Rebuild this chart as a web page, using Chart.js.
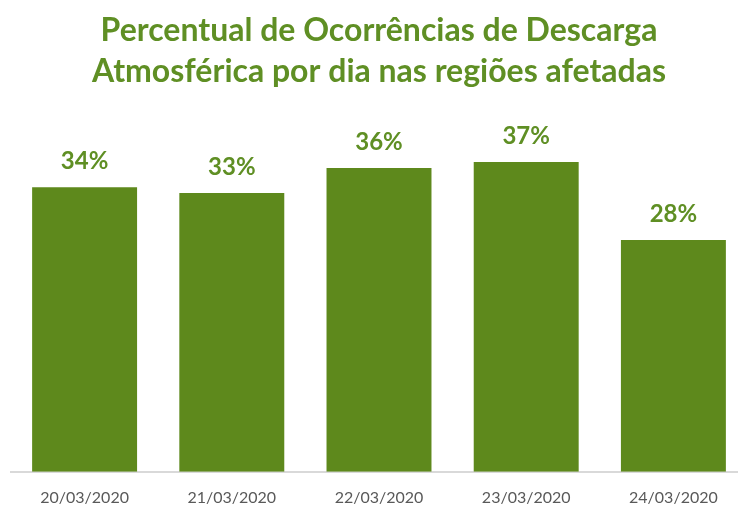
<!DOCTYPE html>
<html>
<head>
<meta charset="utf-8">
<script src="https://cdn.jsdelivr.net/npm/chart.js@4"></script>
<style>
  html, body { margin: 0; padding: 0; background: #fff; overflow: hidden; }
  #wrap { width: 747px; height: 517px; }
</style>
</head>
<body>
<div id="wrap"><canvas id="chart"></canvas></div>
<script>
// dates on the x axis
const days = ['20/03/2020', '21/03/2020', '22/03/2020', '23/03/2020', '24/03/2020'];
// share of occurrences per day (fraction)
const shares = [0.34, 0.333, 0.363, 0.37, 0.277];
const titleLines = ['Percentual de Ocorrências de Descarga', 'Atmosférica por dia nas regiões afetadas'];

const green = '#5E891C';
const labelFont = "bold 24px Lato, 'Open Sans', sans-serif";

// draws the % value above each bar
const barLabels = {
  id: 'barLabels',
  afterDatasetsDraw(chart) {
    const ctx = chart.ctx;
    const meta = chart.getDatasetMeta(0);
    ctx.save();
    ctx.font = labelFont;
    ctx.fillStyle = '#5F8F24';
    ctx.textAlign = 'center';
    ctx.textBaseline = 'bottom';
    meta.data.forEach((bar, i) => {
      ctx.fillText(Math.round(shares[i] * 100) + '%', bar.x, bar.y - 14);
    });
    ctx.restore();
  }
};

const ctx = document.getElementById('chart').getContext('2d');

new Chart(ctx, {
  type: 'bar',
  data: {
    labels: days,
    datasets: [{
      label: 'Percentual',
      data: shares,
      backgroundColor: green,
      borderWidth: 0,
      categoryPercentage: 1,
      barPercentage: 0.713
    }]
  },
  options: {
    responsive: true,
    maintainAspectRatio: false,
    animation: false,
    layout: { padding: { left: 11, right: 0, top: 0, bottom: 2 } },
    plugins: {
      legend: { display: false },
      tooltip: { enabled: false },
      title: {
        display: true,
        text: titleLines,
        color: '#5F8F24',
        font: { family: "Lato, 'Open Sans', sans-serif", size: 32, weight: 'bold', lineHeight: 1.28 },
        padding: { top: 10, bottom: 45 }
      }
    },
    scales: {
      x: {
        grid: { display: false },
        border: { display: true, color: '#D9D9D9', width: 2 },
        ticks: {
          color: '#595959',
          font: { family: "Lato, 'Open Sans', sans-serif", size: 16 },
          padding: 8,
          maxRotation: 0
        }
      },
      y: {
        display: false,
        min: 0,
        max: 0.4
      }
    }
  },
  plugins: [barLabels]
});
</script>
</body>
</html>
